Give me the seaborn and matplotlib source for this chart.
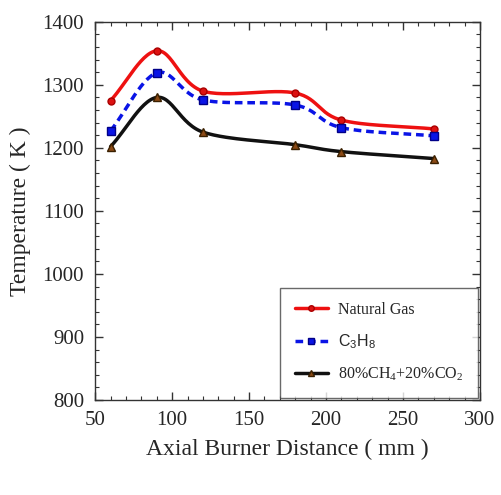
import matplotlib
matplotlib.use("Agg")
import matplotlib.pyplot as plt
import numpy as np
import pandas as pd
import seaborn as sns
from matplotlib.ticker import MultipleLocator

sns.set_theme(style="white")
plt.rcParams["font.family"] = ["Liberation Serif", "DejaVu Serif"]
plt.rcParams["mathtext.fontset"] = "custom"
plt.rcParams["mathtext.rm"] = "Liberation Serif"
plt.rcParams["mathtext.sf"] = "Liberation Sans"

distance = [60, 90, 120, 180, 210, 270]
natural_gas = [1275, 1354, 1290, 1287, 1244, 1230]
propane = [1227, 1319, 1276, 1268, 1232, 1219]
ch4_co2 = [1202, 1280, 1225, 1205, 1194, 1183]

series_names = ["Natural Gas", r"$\mathsf{C_3H_8}$", r"80%CH$_4$+20%CO$_2$"]
series_values = [natural_gas, propane, ch4_co2]


def smooth(x, y, n=30):
    # Catmull-Rom curve through the measured points
    x = np.asarray(x, float)
    y = np.asarray(y, float)
    px = np.concatenate([[2 * x[0] - x[1]], x, [2 * x[-1] - x[-2]]])
    py = np.concatenate([[2 * y[0] - y[1]], y, [2 * y[-1] - y[-2]]])
    xs, ys = [], []
    t = np.linspace(0, 1, n)
    for i in range(1, len(px) - 2):
        for p, out in ((px, xs), (py, ys)):
            p0, p1, p2, p3 = p[i - 1], p[i], p[i + 1], p[i + 2]
            out.extend(0.5 * (2 * p1 + (-p0 + p2) * t
                              + (2 * p0 - 5 * p1 + 4 * p2 - p3) * t ** 2
                              + (-p0 + 3 * p1 - 3 * p2 + p3) * t ** 3))
    return np.array(xs), np.array(ys)


df = pd.DataFrame({"distance": distance * 3,
                   "temperature": natural_gas + propane + ch4_co2,
                   "fuel": sum([[name] * len(distance) for name in series_names], [])})

styles = {
    series_names[0]: dict(color="#ee1111", ls="-", marker="o", mfc="#dd1111", mec="#aa0000", ms=5),
    series_names[1]: dict(color="#0a14e6", ls=(0, (2.2, 1.4)), marker="s", mfc="#0a14e6", mec="#000088", ms=6),
    series_names[2]: dict(color="#111111", ls="-", marker="^", mfc="#8b4a16", mec="#3a2000", ms=6),
}

fig = plt.figure(figsize=(5.01, 4.95), dpi=100)
ax = fig.add_axes([0.19, 0.192, 0.768, 0.764])

for name in series_names:
    st = styles[name]
    sub = df[df["fuel"] == name]
    sx, sy = smooth(sub["distance"], sub["temperature"])
    sns.lineplot(x=sx, y=sy, ax=ax, color=st["color"], linewidth=2.5,
                 linestyle=st["ls"], sort=False, estimator=None)
    ax.plot(sub["distance"], sub["temperature"], linestyle="none", marker=st["marker"],
            markerfacecolor=st["mfc"], markeredgecolor=st["mec"], markersize=st["ms"])
    ax.plot([], [], color=st["color"], linewidth=2.5, linestyle=st["ls"], marker=st["marker"],
            markerfacecolor=st["mfc"], markeredgecolor=st["mec"], markersize=st["ms"] - 1,
            label=name)

ax.set_xlim(50, 300)
ax.set_ylim(800, 1400)
ax.xaxis.set_major_locator(MultipleLocator(50))
ax.xaxis.set_minor_locator(MultipleLocator(10))
ax.yaxis.set_major_locator(MultipleLocator(100))
ax.yaxis.set_minor_locator(MultipleLocator(20))
ax.tick_params(which="both", direction="in", top=True, right=True, color="#333333",
               labelsize=15, pad=8, bottom=True, left=True)
ax.tick_params(which="major", length=6, width=1)
ax.tick_params(which="minor", length=3, width=0.8)
for sp in ax.spines.values():
    sp.set_color("#333333")
    sp.set_linewidth(1.0)

ax.set_xlabel("Axial Burner Distance ( mm )", fontsize=17, labelpad=6)
ax.set_ylabel("Temperature ( K )", fontsize=17, labelpad=8)

handles, labels = [], []
for h, l in zip(*ax.get_legend_handles_labels()):
    if l in series_names:
        handles.append(h)
        labels.append(l)
leg = ax.legend(handles, labels, loc="lower right", fontsize=11.5, frameon=True, fancybox=False,
                edgecolor="#444444", borderpad=0.9, labelspacing=0.9, handlelength=2.1,
                handletextpad=0.6, borderaxespad=0.15)
leg.get_frame().set_linewidth(1.0)

fig.savefig("out.png", dpi=100)
plt.close(fig)
